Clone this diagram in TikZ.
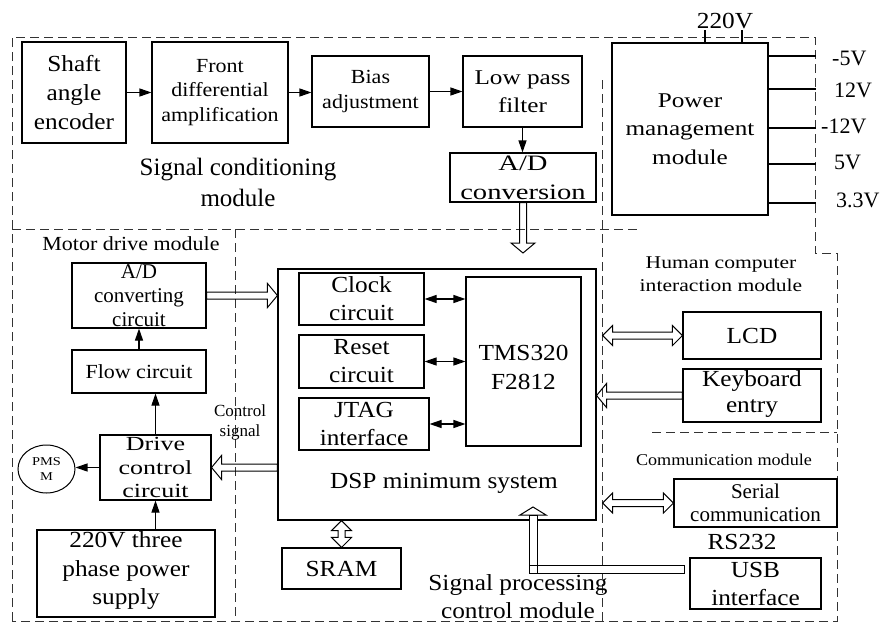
\documentclass[tikz,border=0pt]{standalone}
\usepackage{fontspec}
\setmainfont{Liberation Serif}
\newfontfamily\stA[FakeStretch=1.1]{Liberation Serif}
\newfontfamily\stB[FakeStretch=1.2]{Liberation Serif}
\newfontfamily\stC[FakeStretch=1.3]{Liberation Serif}
\usetikzlibrary{calc,arrows.meta,shapes.geometric}
\newcommand\fsz[2]{\fontsize{#1}{#2}\selectfont}
\begin{document}
\begin{tikzpicture}[x=1pt,y=-1pt,
  bx/.style 2 args={draw, line width=1.1pt, inner sep=0pt, minimum width=#1, minimum height=#2},
  lb/.style={align=center, inner sep=0pt},
  dashln/.style={draw=black!80, line width=0.9pt, dash pattern=on 9pt off 5pt},
  arr/.style={line width=1.1pt, -{Triangle[length=12pt,width=8pt]}},
  arrtwo/.style={line width=1.1pt, {Triangle[length=12pt,width=8pt]}-{Triangle[length=12pt,width=8pt]}},
  ln/.style={line width=1.1pt},
  hol/.style={draw, line width=1pt, to path={
    ($(\tikztotarget)!10pt!(\tikztostart)$) coordinate (hB)
    ($(\tikztostart)!3.5pt!90:(\tikztotarget)$) -- ($(hB)!3.5pt!-90:(\tikztostart)$)
    -- ($(hB)!12pt!-90:(\tikztostart)$) -- (\tikztotarget)
    -- ($(hB)!12pt!90:(\tikztostart)$) -- ($(hB)!3.5pt!90:(\tikztostart)$)
    -- ($(\tikztostart)!3.5pt!-90:(\tikztotarget)$) -- cycle}},
  holtwo/.style={draw, line width=1pt, to path={
    ($(\tikztostart)!10pt!(\tikztotarget)$) coordinate (hA)
    ($(\tikztotarget)!10pt!(\tikztostart)$) coordinate (hB)
    (\tikztostart) -- ($(hA)!10pt!90:(\tikztotarget)$) -- ($(hA)!3.5pt!90:(\tikztotarget)$)
    -- ($(hB)!3.5pt!-90:(\tikztostart)$) -- ($(hB)!10pt!-90:(\tikztostart)$)
    -- (\tikztotarget)
    -- ($(hB)!10pt!90:(\tikztostart)$) -- ($(hB)!3.5pt!90:(\tikztostart)$)
    -- ($(hA)!3.5pt!-90:(\tikztotarget)$) -- ($(hA)!10pt!-90:(\tikztotarget)$) -- cycle}}
]
\useasboundingbox (0,0) rectangle (884,624);

% module borders
\draw[dashln] (12,621) -- (12,37) -- (815,37) -- (815,253) -- (837,253) -- (837,621) -- cycle;
\draw[dashln] (12,229) -- (640,229);
\draw[dashln] (602,80) -- (602,621);
\draw[dashln] (235,229) -- (235,621);
\draw[dashln] (652,432) -- (837,432);

% signal conditioning module
\node[bx={104}{101}, label={[lb,font=\stA\fsz{23}{29}]center:{Shaft\\angle\\encoder}}] (enc) at (74,92.5) {};
\node[bx={136}{101}, label={[lb,font=\stA\fsz{20}{24.5}]center:{Front\\differential\\amplification}}] (fda) at (220,92.5) {};
\node[bx={117}{71}, label={[lb,font=\stA\fsz{20}{25}]center:{Bias\\adjustment}}] (bias) at (370.5,91.5) {};
\node[bx={119}{71}, label={[lb,font=\stB\fsz{21}{28}]center:{Low pass\\filter}}] (lpf) at (522.5,91.5) {};
\node[bx={146}{49}, label={[lb,font=\stC\fsz{22}{29}]center:{A/D\\conversion}}] (adc) at (523,177.5) {};
\node[lb,font=\fsz{25}{31}] (scm) at (238,182) {Signal conditioning\\module};

% power
\node[bx={156}{172}, label={[lb,font=\stB\fsz{21}{28.5}]center:{Power\\management\\module}}] (pwr) at (690,129) {};
\node[lb,font=\stA\fsz{23}{28}] (v220) at (725,21) {220V};
\coordinate (va) at (705,30);
\coordinate (vb) at (742,30);
\draw[ln] (va) -- (va |- pwr.north);
\draw[ln] (vb) -- (vb |- pwr.north);
\node[lb,anchor=west,font=\fsz{22}{26}] (o1) at (832,58) {-5V};
\node[lb,anchor=west,font=\fsz{22}{26}] (o2) at (834,90) {12V};
\node[lb,anchor=west,font=\fsz{22}{26}] (o3) at (821,126) {-12V};
\node[lb,anchor=west,font=\fsz{22}{26}] (o4) at (834,162) {5V};
\node[lb,anchor=west,font=\fsz{22}{26}] (o5) at (836,200) {3.3V};
\foreach \yy in {56,89,128,164,203} \draw[ln] (pwr.east |- 0,\yy) -- ++(47,0);

% motor drive module
\node[lb,font=\stA\fsz{20}{24}] (mdm) at (131,244) {Motor drive module};
\node[bx={134}{65}, label={[lb,font=\fsz{21}{24}]center:{A/D\\converting\\circuit}}] (adcc) at (139,295.5) {};
\node[bx={134}{43}, label={[lb,font=\stA\fsz{20}{24}]center:{Flow circuit}}] (flow) at (139,371.5) {};
\node[bx={111}{65}, label={[lb,font=\stC\fsz{20}{23.5}]center:{Drive\\control\\circuit}}] (drv) at (155.5,467.5) {};
\node[draw, ellipse, line width=1pt, minimum width=57, minimum height=48, inner sep=0pt,
      label={[lb,font=\stB\fsz{12}{15}]center:{PMS\\M}}] (pmsm) at (46.5,469) {};
\node[bx={178}{87}, label={[lb,font=\stA\fsz{23}{28.5},yshift=3pt]center:{220V three\\phase power\\supply}}] (ps) at (126,573.5) {};
\node[lb,font=\fsz{17}{20}] (cs) at (240,422) {Control\\signal};

% signal processing control module
\node[bx={318}{251}] (dsp) at (437,394.5) {};
\node[lb,font=\stA\fsz{23}{28}] (dspl) at (444,483) {DSP minimum system};
\node[bx={125}{52}, label={[lb,font=\stA\fsz{23}{28}]center:{Clock\\circuit}}] (clk) at (361.5,299) {};
\node[bx={125}{53}, label={[lb,font=\stA\fsz{23}{28}]center:{Reset\\circuit}}] (rst) at (361.5,361.5) {};
\node[bx={130}{52}, label={[lb,font=\stA\fsz{23}{28}]center:{JTAG\\interface}}] (jtag) at (364,424) {};
\node[bx={115}{169}, label={[lb,font=\stA\fsz{23}{29},yshift=-6pt]center:{TMS320\\F2812}}] (tms) at (523.5,361.5) {};
\node[bx={119}{41}, label={[lb,font=\stA\fsz{23}{28}]center:{SRAM}}] (sram) at (341.5,568.5) {};
\node[lb,font=\stA\fsz{23}{28}] (spcm) at (518,597) {Signal processing\\control module};

% human computer interaction / communication
\node[lb,font=\stB\fsz{18}{23}] (hci) at (721,274) {Human computer\\interaction module};
\node[bx={138}{47}, label={[lb,font=\stA\fsz{23}{28}]center:{LCD}}] (lcd) at (752,335.5) {};
\node[bx={138}{53}, label={[lb,font=\stA\fsz{23}{26},yshift=2pt]center:{Keyboard\\entry}}] (kbd) at (752,395.5) {};
\node[lb,font=\stA\fsz{16.5}{20}] (com) at (724,460) {Communication module};
\node[bx={163}{48}, label={[lb,font=\fsz{21}{23}]center:{Serial\\communication}}] (ser) at (755.5,503) {};
\node[lb,font=\stA\fsz{23}{28}] (rs) at (742,542) {RS232};
\node[bx={131}{51}, label={[lb,font=\stA\fsz{23}{28}]center:{USB\\interface}}] (usb) at (755.5,583.5) {};

% plain arrows
\draw[arr] (enc.east) -- (fda.west);
\draw[arr] (fda.east) -- (fda.east -| bias.west);
\draw[arr] (bias.east) -- (lpf.west);
\draw[arr] (lpf.south) -- (lpf.south |- adc.north);
\draw[arr] (drv.west) -- (drv.west -| pmsm.east);
\draw[arr] (drv.north) -- (drv.north |- flow.south);
\draw[arr] (flow.north) -- (adcc.south);
\draw[arr] (drv.south |- ps.north) -- (drv.south);
\draw[arrtwo] (clk.east) -- (clk.east -| tms.west);
\draw[arrtwo] (rst.east) -- (rst.east -| tms.west);
\draw[arrtwo] (jtag.east) -- (jtag.east -| tms.west);

% hollow bus arrows
\coordinate (adctip) at (523,253);
\coordinate (adccR) at (adcc.east -| dsp.west);
\coordinate (drvL) at (drv.east -| dsp.west);
\coordinate (lcdL) at ($(lcd.west -| dsp.east)+(6,0)$);
\coordinate (kbdL) at (kbd.west -| dsp.east);
\coordinate (serL) at ($(ser.west -| dsp.east)+(6,0)$);
\coordinate (sramT) at (sram.north |- dsp.south);
\draw[hol] (adc.south) to (adctip);
\draw[hol] (adcc.east) to (adccR);
\draw[hol] (drvL) to (drv.east);
\draw[holtwo] (lcdL) to (lcd.west);
\draw[hol] (kbd.west) to (kbdL);
\draw[holtwo] (serL) to (ser.west);
\draw[holtwo] (sram.north) to (sramT);

% USB bus (elbow)
\coordinate (ue) at ($(usb.west)+(-5,-14.5)$);
\coordinate (uc) at (533,569);
\coordinate (ut) at (533,507);
\fill[white] ($(ue)+(0,-4)$) -- ($(uc)+(4,-4)$) -- ($(ut)+(4,8)$) -- ($(ut)+(13,8)$)
  -- (ut) -- ($(ut)+(-13,8)$) -- ($(ut)+(-4,8)$) -- ($(uc)+(-4,4)$) -- ($(ue)+(0,4)$) -- cycle;
\draw[line width=1pt] ($(ut)+(-4,8)$) rectangle ($(uc)+(4,4)$);
\draw[line width=1pt] ($(uc)+(-4,-4)$) rectangle ($(ue)+(0,4)$);
\draw[line width=1pt] ($(ut)+(-13,8)$) -- (ut) -- ($(ut)+(13,8)$) -- cycle;
\end{tikzpicture}
\end{document}
